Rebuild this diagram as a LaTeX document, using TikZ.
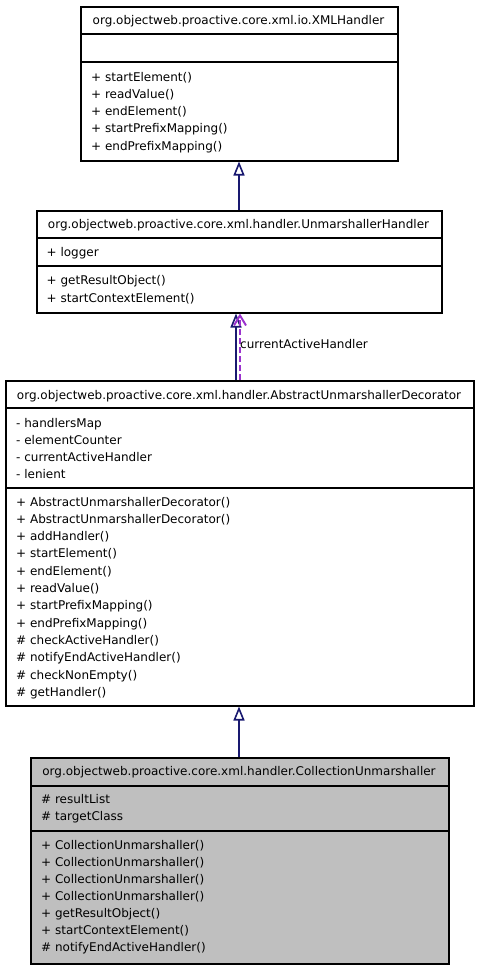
\documentclass[tikz,border=0pt]{standalone}
\usepackage{fontspec}
\setmainfont{DejaVu Sans}
\usetikzlibrary{arrows.meta}
\definecolor{navy}{HTML}{191970}
\definecolor{edgepurple}{HTML}{9A32CD}
\definecolor{boxgray}{HTML}{BFBFBF}
\tikzset{
  classbox/.style={draw=black, line width=1.5pt, inner sep=0pt, anchor=north west},
  divider/.style={draw=black, line width=1.5pt},
  txt/.style={anchor=base west, inner sep=0pt, font=\fontsize{12}{14}\selectfont},
  ttl/.style={anchor=base, inner sep=0pt, font=\fontsize{12}{14}\selectfont},
  inherit/.style={draw=navy, line width=2pt, -{Triangle[open, length=14pt, width=11pt, fill=white, line width=1.6pt]}},
  usage/.style={draw=edgepurple, line width=2pt, dash pattern=on 6pt off 3pt, -{Straight Barb[length=10pt, width=12pt, line width=2pt]}}
}
\begin{document}
\begin{tikzpicture}[x=1pt,y=-1pt]
\useasboundingbox (0,0) rectangle (477,967);
% boxes
\node[classbox, minimum width=317pt, minimum height=154pt] (b1) at (80,6) {};
\node[classbox, minimum width=405pt, minimum height=102pt] (b2) at (36,210) {};
\node[classbox, minimum width=468pt, minimum height=325pt] (b3) at (5,380) {};
\node[classbox, fill=boxgray, minimum width=418pt, minimum height=206pt] (b4) at (30,757) {};
% dividers
\draw[divider] (80,34) -- (397,34);
\draw[divider] (80,62) -- (397,62);
\draw[divider] (36,238) -- (441,238);
\draw[divider] (36,266) -- (441,266);
\draw[divider] (5,408) -- (473,408);
\draw[divider] (5,488) -- (473,488);
\draw[divider] (30,786) -- (448,786);
\draw[divider] (30,831) -- (448,831);
% box 1
\node[ttl] (t1) at (238.5,24) {org.objectweb.proactive.core.xml.io.XMLHandler};
\foreach \t [count=\i from 0] in {+ startElement(), + readValue(), + endElement(), + startPrefixMapping(), + endPrefixMapping()}
  \node[txt] (m1-\i) at (91,81+17.25*\i) {\t};
% box 2
\node[ttl] (t2) at (238.5,228) {org.objectweb.proactive.core.xml.handler.UnmarshallerHandler};
\node[txt] (a2-0) at (46.5,256) {+ logger};
\foreach \t [count=\i from 0] in {+ getResultObject(), + startContextElement()}
  \node[txt] (m2-\i) at (46.5,284+18*\i) {\t};
% box 3
\node[ttl] (t3) at (239,399) {org.objectweb.proactive.core.xml.handler.AbstractUnmarshallerDecorator};
\foreach \t [count=\i from 0] in {- handlersMap, - elementCounter, - currentActiveHandler, - lenient}
  \node[txt] (a3-\i) at (16,427+17*\i) {\t};
\foreach \t [count=\i from 0] in {+ AbstractUnmarshallerDecorator(), + AbstractUnmarshallerDecorator(), + addHandler(), + startElement(), + endElement(), + readValue(), + startPrefixMapping(), + endPrefixMapping(), \# checkActiveHandler(), \# notifyEndActiveHandler(), \# checkNonEmpty(), \# getHandler()}
  \node[txt] (m3-\i) at (16,506+17.3*\i) {\t};
% box 4
\node[ttl] (t4) at (239,775) {org.objectweb.proactive.core.xml.handler.CollectionUnmarshaller};
\foreach \t [count=\i from 0] in {\# resultList, \# targetClass}
  \node[txt] (a4-\i) at (41,803+17.5*\i) {\t};
\foreach \t [count=\i from 0] in {+ CollectionUnmarshaller(), + CollectionUnmarshaller(), + CollectionUnmarshaller(), + CollectionUnmarshaller(), + getResultObject(), + startContextElement(), \# notifyEndActiveHandler()}
  \node[txt] (m4-\i) at (41,849+17.15*\i) {\t};
% connectors
\coordinate (ax) at (239,0);
\coordinate (axl) at (236,0);
\coordinate (axr) at (240,0);
\draw[inherit] (b2.north -| ax) -- (b1.south -| ax);
\draw[inherit] (b3.north -| axl) -- (b2.south -| axl);
\draw[usage] (b3.north -| axr) -- (b2.south -| axr);
\draw[inherit] (b4.north -| ax) -- (b3.south -| ax);
\node[txt] (lbl) at (240,348) {currentActiveHandler};
\end{tikzpicture}
\end{document}
